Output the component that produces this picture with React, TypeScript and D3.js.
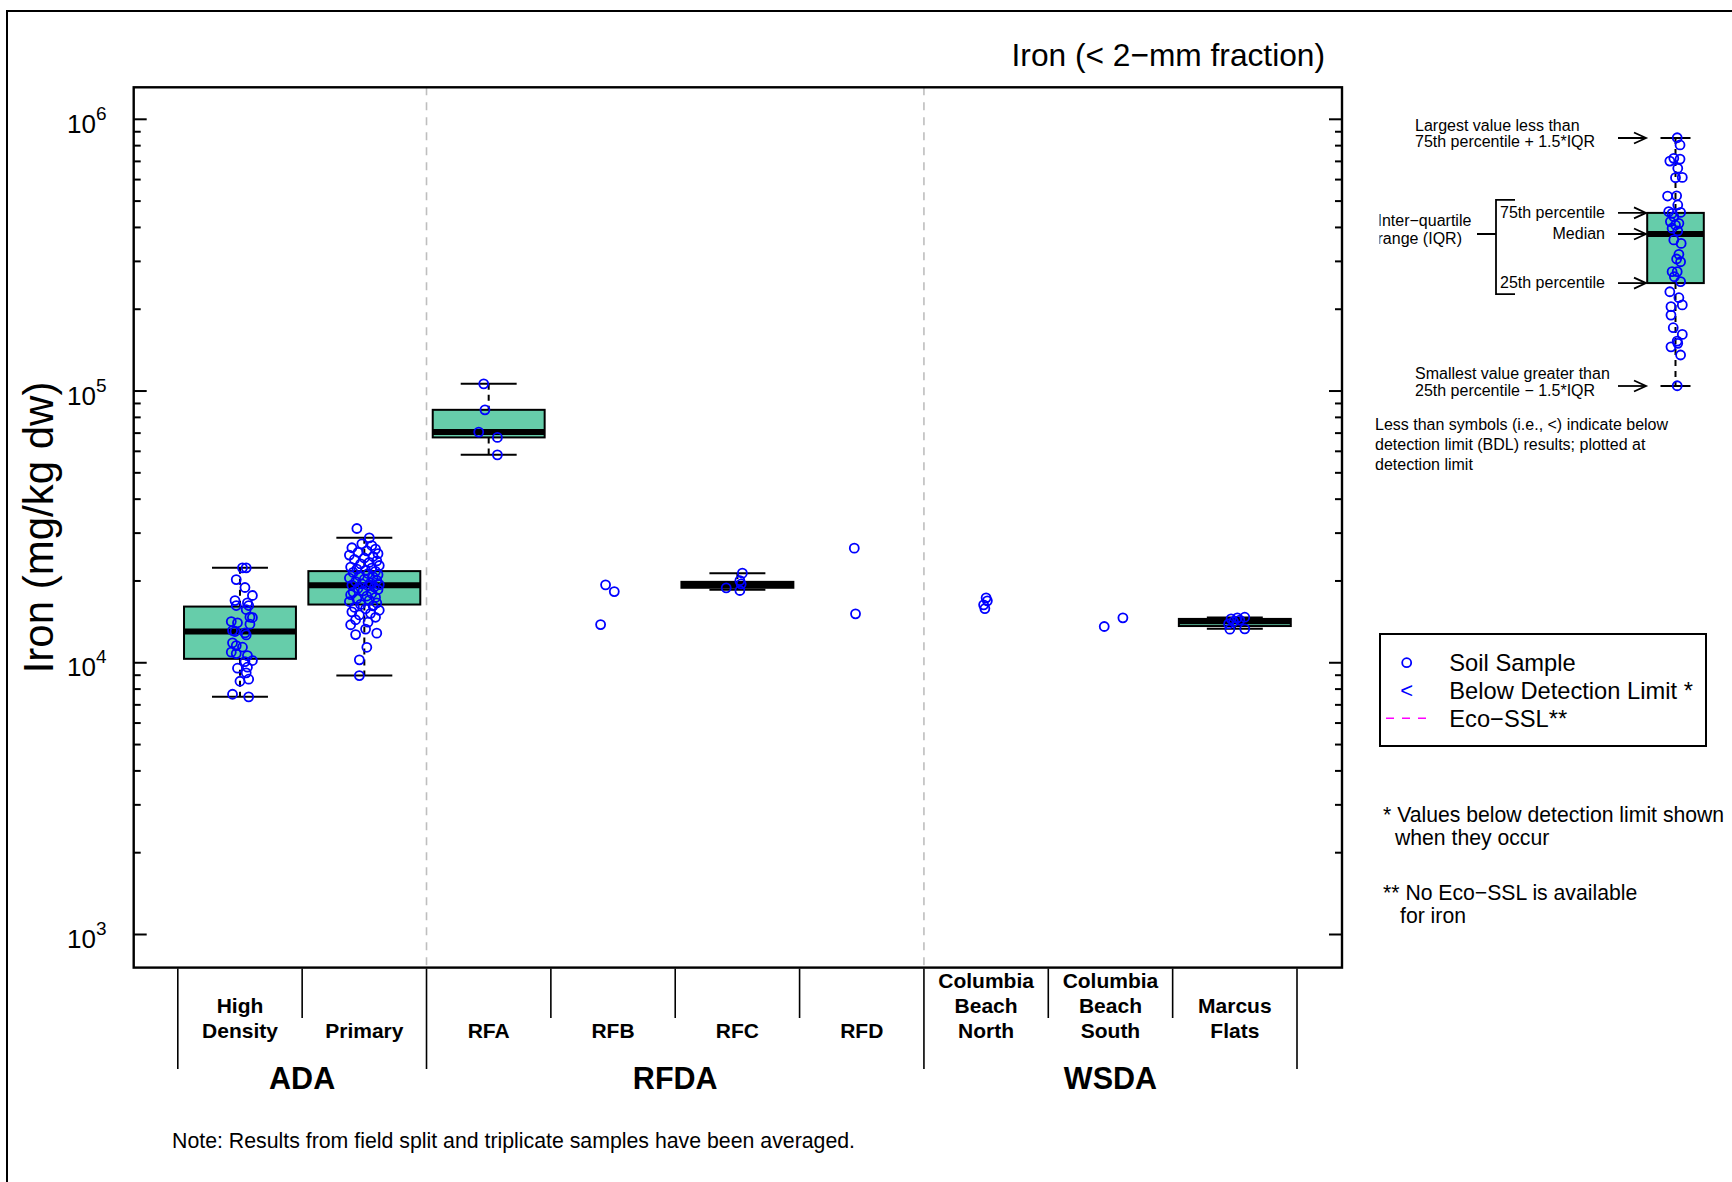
import React, { useEffect, useRef } from 'react';
import * as d3 from 'd3';

const categories = ['High Density', 'Primary', 'RFA', 'RFB', 'RFC', 'RFD', 'Columbia Beach North', 'Columbia Beach South', 'Marcus Flats'];
const categoryLines = [['High', 'Density'], ['Primary'], ['RFA'], ['RFB'], ['RFC'], ['RFD'], ['Columbia', 'Beach', 'North'], ['Columbia', 'Beach', 'South'], ['Marcus', 'Flats']];
const groupNames = ['ADA', 'RFDA', 'WSDA'];
const groupSizes = [2, 4, 3];
const yMajorExponents = [3, 4, 5, 6];

// [lower whisker, q1, median, q3, upper whisker]; null = too few samples for a box
const boxStats = [
  [7490, 10340, 13030, 16100, 22350],
  [8970, 16380, 19300, 21740, 28820],
  [58240, 67500, 70600, 85280, 106300],
  null,
  [18550, 18880, 19350, 19850, 21370],
  null,
  null,
  null,
  [13330, 13650, 14230, 14500, 14670],
];

// samples: [value, jitter as fraction of band]
const highDensity = [
  [22350, 0.02], [22350, 0.05], [20240, -0.03], [18920, 0.04], [17680, 0.1], [16940, -0.04], [16240, -0.03],
  [16610, 0.06], [16240, 0.07], [15700, 0.05], [14720, 0.08], [14670, 0.1], [14180, -0.07], [14030, -0.02],
  [13870, 0.08], [13140, -0.06], [13030, -0.04], [12880, 0.04], [12660, 0.05], [11840, -0.06], [11570, -0.03],
  [11410, 0.02], [10940, -0.07], [10810, -0.03], [10630, 0.06], [10190, 0.1], [10100, 0.04], [9630, 0.06],
  [9550, -0.02], [9180, 0.05], [8550, 0.0], [8700, 0.07], [7660, -0.06], [7490, 0.07],
];
const primary = [
  [31200, -0.06], [28800, 0.04], [27400, -0.02], [27000, 0.06], [26500, -0.1], [26200, 0.09], [25800, 0.02],
  [25500, -0.05], [25200, 0.11], [24900, -0.12], [24600, 0.07], [24300, 0.0], [24000, -0.08], [23700, 0.1],
  [23400, 0.04], [23100, -0.03], [22800, 0.12], [22500, -0.11], [22300, 0.06], [22100, -0.06], [21900, 0.01],
  [21700, 0.09], [21500, -0.09], [21300, 0.03], [21100, 0.11], [20900, -0.04], [20700, 0.07], [20500, -0.12],
  [20300, 0.0], [20100, 0.1], [19900, -0.07], [19700, 0.05], [19500, -0.02], [19400, 0.12], [19300, -0.1],
  [19200, 0.03], [19000, 0.08], [18800, -0.05], [18600, 0.11], [18400, -0.01], [18200, -0.09], [18000, 0.06],
  [17800, -0.11], [17600, 0.02], [17400, 0.09], [17200, -0.06], [17000, 0.04], [16800, -0.12], [16600, 0.1],
  [16400, -0.03], [16200, 0.07], [16000, -0.08], [15800, 0.01], [15600, 0.12], [15400, -0.1], [15200, 0.05],
  [15000, -0.04], [14700, 0.09], [14400, -0.07], [14100, 0.03], [13800, -0.11], [13300, 0.01], [12850, 0.1],
  [12700, -0.07], [11400, 0.02], [10250, -0.04], [8970, -0.04],
];
const rfa = [[106300, -0.04], [85280, -0.03], [70600, -0.08], [67500, 0.07], [58240, 0.07]];
const rfb = [[19350, -0.06], [18280, 0.01], [13820, -0.1]];
const rfc = [[21370, 0.04], [20050, 0.02], [19500, 0.03], [18870, -0.09], [18450, 0.02]];
const rfd = [[26410, -0.06], [15140, -0.05]];
const cbNorth = [[17340, 0.0], [16900, 0.01], [16340, -0.02], [15830, -0.01]];
const cbSouth = [[13600, -0.05], [14630, 0.1]];
const marcusFlats = [
  [14510, -0.03], [14630, 0.02], [14710, 0.08], [13900, -0.05], [14170, -0.01], [13290, -0.04], [13330, 0.08], [14360, 0.04],
];
const samples = [highDensity, primary, rfa, rfb, rfc, rfd, cbNorth, cbSouth, marcusFlats];

// explanatory inset box (arbitrary 0-100 units); jitter as fraction of inset box width
const insetStats = [0, 41.5, 61.3, 69.8, 100];
const insetPoints = [
  [100.1, 0.03], [97.2, 0.08], [90.7, -0.1], [91.8, -0.03], [91.5, 0.08], [87.8, 0.04], [84.0, 0.0], [84.1, 0.12],
  [76.6, -0.14], [76.7, 0.02], [73.0, 0.04], [70.3, -0.12], [69.6, -0.06], [70.0, 0.09], [68.3, -0.03], [66.3, -0.09],
  [65.6, 0.06], [64.9, 0.0], [63.6, -0.06], [62.5, 0.04], [58.9, -0.03], [57.5, 0.1], [53.1, 0.06], [51.2, 0.02],
  [50.1, 0.09], [46.1, -0.06], [46.1, 0.03], [44.1, -0.02], [42.1, 0.09], [38.0, -0.1], [35.6, 0.06], [32.7, 0.12],
  [32.0, -0.08], [28.6, -0.08], [23.5, -0.04], [20.8, 0.12], [18.1, 0.03], [17.2, 0.04], [15.8, -0.08], [12.5, 0.09],
  [0.1, 0.03],
];

const FONT = '"Liberation Sans", Arial, Helvetica, sans-serif';
const BOX_FILL = '#66CDAA';
const BLUE = '#0000FF';

const drawBox = (g, cx, halfW, capHalf, yFn, stats) => {
  const [lo, q1, med, q3, hi] = stats;
  const whisker = (a, b) => g.append('line')
    .attr('x1', cx).attr('x2', cx).attr('y1', yFn(a)).attr('y2', yFn(b))
    .attr('stroke', '#000').attr('stroke-width', 2).attr('stroke-dasharray', '6,5');
  whisker(hi, q3);
  whisker(q1, lo);
  [lo, hi].forEach(v => g.append('line')
    .attr('x1', cx - capHalf).attr('x2', cx + capHalf).attr('y1', yFn(v)).attr('y2', yFn(v))
    .attr('stroke', '#000').attr('stroke-width', 2));
  g.append('rect')
    .attr('x', cx - halfW).attr('y', yFn(q3)).attr('width', halfW * 2).attr('height', yFn(q1) - yFn(q3))
    .attr('fill', BOX_FILL).attr('stroke', '#000').attr('stroke-width', 2);
  g.append('line')
    .attr('x1', cx - halfW).attr('x2', cx + halfW).attr('y1', yFn(med)).attr('y2', yFn(med))
    .attr('stroke', '#000').attr('stroke-width', 6);
};

const App = () => {
  const svgRef = useRef(null);

  useEffect(() => {
    const svg = d3.select(svgRef.current);
    svg.selectAll('*').remove();
    svg.attr('font-family', FONT);

    const plot = { left: 133.7, right: 1342, top: 87.3, bottom: 967.6 };
    const x = d3.scaleBand().domain(categories).range([177.8, 1297]).padding(0);
    const y = d3.scaleLog().domain([1e3, 1e6]).range([934.5, 119.3]);
    const bw = x.bandwidth();

    // outer frame
    svg.append('rect').attr('x', 7).attr('y', 11).attr('width', 1760).attr('height', 1220)
      .attr('fill', 'none').attr('stroke', '#000').attr('stroke-width', 2);

    // group separators
    let acc = 0;
    groupSizes.slice(0, -1).forEach(n => {
      acc += n;
      const gx = x(categories[acc]);
      svg.append('line').attr('x1', gx).attr('x2', gx).attr('y1', plot.top).attr('y2', plot.bottom)
        .attr('stroke', '#bebebe').attr('stroke-width', 1.6).attr('stroke-dasharray', '8,7');
    });

    // boxes
    const boxes = svg.append('g');
    categories.forEach((c, i) => {
      if (boxStats[i]) drawBox(boxes, x(c) + bw / 2, bw * 0.45, bw * 0.225, y, boxStats[i]);
    });

    // points
    const pts = svg.append('g');
    categories.forEach((c, i) => {
      pts.selectAll(null).data(samples[i]).join('circle')
        .attr('cx', d => x(c) + bw / 2 + d[1] * bw)
        .attr('cy', d => y(d[0]))
        .attr('r', 4.5)
        .attr('fill', 'none').attr('stroke', BLUE).attr('stroke-width', 1.8);
    });

    // plot frame
    svg.append('rect').attr('x', plot.left).attr('y', plot.top)
      .attr('width', plot.right - plot.left).attr('height', plot.bottom - plot.top)
      .attr('fill', 'none').attr('stroke', '#000').attr('stroke-width', 2.4);

    // y ticks, both sides, pointing inward
    y.ticks().forEach(t => {
      const major = Math.abs(Math.log10(t) - Math.round(Math.log10(t))) < 1e-9;
      const len = major ? 13 : 7;
      svg.append('line').attr('x1', plot.left).attr('x2', plot.left + len).attr('y1', y(t)).attr('y2', y(t))
        .attr('stroke', '#000').attr('stroke-width', 2);
      svg.append('line').attr('x1', plot.right).attr('x2', plot.right - len).attr('y1', y(t)).attr('y2', y(t))
        .attr('stroke', '#000').attr('stroke-width', 2);
    });
    yMajorExponents.forEach(e => {
      const ty = y(Math.pow(10, e));
      svg.append('text').attr('x', 96).attr('y', ty + 13.5).attr('text-anchor', 'end')
        .attr('font-size', 26).text('10');
      svg.append('text').attr('x', 96).attr('y', ty + 0.5).attr('font-size', 19).text(String(e));
    });

    svg.append('text')
      .attr('transform', `translate(38.5,${(plot.top + plot.bottom) / 2}) rotate(-90)`)
      .attr('text-anchor', 'middle').attr('dominant-baseline', 'central')
      .attr('font-size', 42).text('Iron (mg/kg dw)');

    svg.append('text').attr('x', 1325).attr('y', 66).attr('text-anchor', 'end')
      .attr('font-size', 31.7).text('Iron (< 2\u2212mm fraction)');

    // category axis below plot
    const bounds = categories.map(c => x(c)).concat([x.range()[1]]);
    const groupEdges = [0];
    groupSizes.forEach(n => groupEdges.push(groupEdges[groupEdges.length - 1] + n));
    bounds.forEach((bx, i) => {
      const long = groupEdges.includes(i);
      svg.append('line').attr('x1', bx).attr('x2', bx).attr('y1', plot.bottom + 1).attr('y2', long ? 1069 : 1018)
        .attr('stroke', '#000').attr('stroke-width', 1.6);
    });
    categories.forEach((c, i) => {
      const lines = categoryLines[i];
      lines.forEach((ln, j) => {
        svg.append('text').attr('x', x(c) + bw / 2).attr('y', 1037.5 - 25 * (lines.length - 1 - j))
          .attr('text-anchor', 'middle').attr('font-weight', 'bold').attr('font-size', 21).text(ln);
      });
    });
    groupNames.forEach((gname, i) => {
      const x0 = bounds[groupEdges[i]];
      const x1 = bounds[groupEdges[i + 1]];
      svg.append('text').attr('x', (x0 + x1) / 2).attr('y', 1088.5)
        .attr('text-anchor', 'middle').attr('font-weight', 'bold').attr('font-size', 30.5).text(gname);
    });

    svg.append('text').attr('x', 172).attr('y', 1147.5).attr('font-size', 21.3)
      .text('Note: Results from field split and triplicate samples have been averaged.');

    // explanatory inset
    svg.append('defs').append('clipPath').attr('id', 'insetClip')
      .append('rect').attr('x', 1379.5).attr('y', 90).attr('width', 360).attr('height', 330);
    const inset = svg.append('g').attr('clip-path', 'url(#insetClip)');
    const iy = d3.scaleLinear().domain([0, 100]).range([386, 138]);
    const icx = 1675.5;
    const ihw = 28.3;
    drawBox(inset, icx, ihw, 15, iy, insetStats);
    inset.selectAll(null).data(insetPoints).join('circle')
      .attr('cx', d => icx + d[1] * ihw * 2).attr('cy', d => iy(d[0])).attr('r', 4.5)
      .attr('fill', 'none').attr('stroke', BLUE).attr('stroke-width', 1.8);

    const arrow = (ay) => {
      inset.append('line').attr('x1', 1618).attr('x2', 1646).attr('y1', ay).attr('y2', ay)
        .attr('stroke', '#000').attr('stroke-width', 1.8);
      inset.append('path').attr('d', `M1634,${ay - 5.5}L1646,${ay}L1634,${ay + 5.5}`)
        .attr('fill', 'none').attr('stroke', '#000').attr('stroke-width', 1.8);
    };
    [0, 1, 2, 3, 4].forEach(k => arrow(iy(insetStats[k])));

    const itext = (tx, ty, s, anchor = 'start') => inset.append('text').attr('x', tx).attr('y', ty)
      .attr('text-anchor', anchor).attr('font-size', 16).text(s);
    const upY = iy(insetStats[4]);
    const loY = iy(insetStats[0]);
    itext(1415, upY - 7.5, 'Largest value less than');
    itext(1415, upY + 9, '75th percentile + 1.5*IQR');
    itext(1415, loY - 7, 'Smallest value greater than');
    itext(1415, loY + 10, '25th percentile \u2212 1.5*IQR');
    itext(1605, iy(insetStats[3]) + 5, '75th percentile', 'end');
    itext(1605, iy(insetStats[2]) + 5, 'Median', 'end');
    itext(1605, iy(insetStats[1]) + 5, '25th percentile', 'end');
    itext(1377.5, 226, 'Inter\u2212quartile');
    itext(1377.5, 243.5, 'range (IQR)');
    const brTop = iy(insetStats[3]) - 13;
    const brBot = iy(insetStats[1]) + 11;
    inset.append('path').attr('d', `M1515,${brTop}H1496V${brBot}H1515`)
      .attr('fill', 'none').attr('stroke', '#000').attr('stroke-width', 1.8);
    inset.append('line').attr('x1', 1477).attr('x2', 1496).attr('y1', iy(insetStats[2])).attr('y2', iy(insetStats[2]))
      .attr('stroke', '#000').attr('stroke-width', 1.8);

    ['Less than symbols (i.e., <) indicate below', 'detection limit (BDL) results; plotted at', 'detection limit']
      .forEach((s, i) => svg.append('text').attr('x', 1375).attr('y', 429.5 + 20 * i).attr('font-size', 16).text(s));

    // legend
    svg.append('rect').attr('x', 1380).attr('y', 634).attr('width', 326).attr('height', 112)
      .attr('fill', 'none').attr('stroke', '#000').attr('stroke-width', 2);
    svg.append('circle').attr('cx', 1406.7).attr('cy', 662.7).attr('r', 4.5)
      .attr('fill', 'none').attr('stroke', BLUE).attr('stroke-width', 1.8);
    svg.append('text').attr('x', 1406.7).attr('y', 697.5).attr('text-anchor', 'middle')
      .attr('font-size', 22).attr('fill', BLUE).text('<');
    svg.append('line').attr('x1', 1386).attr('x2', 1426).attr('y1', 718.3).attr('y2', 718.3)
      .attr('stroke', '#FF00FF').attr('stroke-width', 1.6).attr('stroke-dasharray', '8,8');
    ['Soil Sample', 'Below Detection Limit *', 'Eco\u2212SSL**'].forEach((s, i) => {
      svg.append('text').attr('x', 1449.3).attr('y', 670.7 + 28 * i).attr('font-size', 23.7).text(s);
    });

    // footnotes
    const notes = [
      [1383, 821.7, '* Values below detection limit shown'],
      [1395, 845, 'when they occur'],
      [1383, 900, '** No Eco\u2212SSL is available'],
      [1400, 923.3, 'for iron'],
    ];
    notes.forEach(([nx, ny, s]) => svg.append('text').attr('x', nx).attr('y', ny).attr('font-size', 21.2).text(s));
  }, []);

  return (
    <svg ref={svgRef} width={1732} height={1182}
      style={{ position: 'absolute', left: 0, top: 0, background: '#fff' }}></svg>
  );
};

export default App;
